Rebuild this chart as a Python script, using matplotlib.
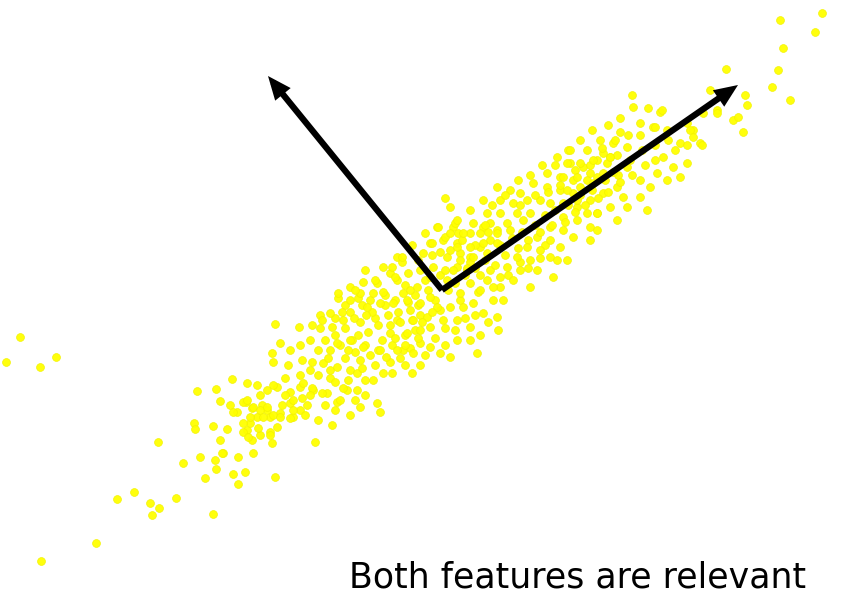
import matplotlib
matplotlib.use("Agg")
import matplotlib.pyplot as plt

# Scatter points (pixel coordinates: x to the right, y downward)
pts_tail = [(20,337),(6,362),(40,367),(56,357),
    (158,442),(183,463),(134,492),(117,499),(150,503),(159,508),(152,515),(176,498),
    (96,543),(41,561),(197,391),(194,423),(195,429),
    (216,389),(220,401),(230,405),(237,412),(213,426),(227,429),(220,440),(223,453),
    (215,460),(216,469),(205,478),(238,457),(233,474),(238,484),(245,472),(247,430),
    (246,402),(232,379),(200,457),(213,514)]
pts_lower = [(243,402),(233,412),(252,408),(262,405),(267,410),(257,417),(250,423),(243,432),
    (270,417),(280,413),(290,403),(300,410),(293,417),(307,405),(277,387),(300,387),(313,390),
    (327,393),(337,402),(347,390),(252,440),(260,435),(270,432),(272,443),(315,442),(222,453),
    (253,453),(275,477),
    (275,324),(299,327),(312,325),(320,315),(280,343),(272,353),(273,362),(290,350),(288,365),
    (302,360),(312,362),(310,370),(323,363),(330,370),(337,367),(350,370),(357,373),(330,378),
    (373,380),(383,373),(392,373),(412,373),(403,350),(247,383),(257,385),(273,385),(267,390),
    (303,383),(312,388),(322,393),(290,392),(293,400),(302,398),(340,400),(343,388),(357,390),
    (247,400),(253,407),(260,410),(267,407),(250,417),(263,417),(273,415),(280,417),(293,410),
    (305,415),(290,418),(243,423),(258,428),(277,427),(350,415),(377,403),(380,412),(248,437),
    (270,435),
    (318,375),(335,382),(348,380),(365,380),(362,368),(375,365),(390,362),(405,365),(420,365),
    (300,375),(285,378),(310,395),(325,405),(335,410),(355,400),(365,395),(318,420),(332,425),
    (360,407),(285,395),(260,395),(282,405)]
pts_core = [(335,335),(345,328),(352,340),(360,322),(368,332),(375,318),(382,340),(390,325),
    (398,312),(405,335),(412,320),(418,305),(340,345),(355,352),(365,345),(378,350),(392,345),
    (400,358),(410,348),(415,330),(325,340),(330,350),(345,358),(360,360),(372,312),(385,305),
    (395,300),(408,302),(350,312),(362,305),
    (420,315),(428,290),(435,300),(425,280),(440,275),(415,295),(405,285),(385,295),(370,300),
    (358,298),(345,305),(335,318),(320,328),(310,340),(300,345),(318,350),(328,358),(440,310),
    (448,290),(455,283),(465,275),(475,268),(485,260),(478,292),(490,270),(460,300),
    (397,257),(402,262),(365,270),(383,267),(390,273),(350,287),(363,282),(377,283),(397,280),
    (338,298),(350,300),(360,293),(373,293),(383,292),(403,293),(410,290),(417,287),
    (330,313),(343,320),(367,307),(380,303),(393,303),(407,300),(420,303),(430,297),(437,307),
    (427,317),(413,320),(397,320),(390,333),(407,333),(420,330),(430,327),(443,320),(450,307),
    (463,307),(473,303),(457,320),(470,327),(483,313),(497,317),(493,300),(480,290),(460,293),
    (470,283),(487,280),(500,287),(503,300),(457,340),(470,340),(480,335),(477,353),(430,347),
    (420,343),(413,353),(397,350),(380,350),(363,347),(350,340),(337,343),(440,353),(450,357),
    (498,330),
    (437,227),(453,227),(430,243),(443,240),(457,243),(470,233),(483,227),(497,230),(447,257),
    (460,253),(470,257),(480,247),(490,240),(433,267),(445,270),(457,267),(467,270),(430,277),
    (447,280),(423,253),(425,233),(440,252),
    (445,198),(450,207),(438,227),(455,223),(432,243),(445,237),(458,233),(418,260),(402,257),
    (392,267),(375,280),(355,290),(338,293),(395,277),(408,273),
    (322,320),(332,327),(342,312),(354,318),(366,315),(378,325),(388,315),(400,322),(410,310),
    (422,322),(432,312),(445,328),(455,330),(465,318),(475,315),(488,322),(348,350),(358,335),
    (370,355),(386,357),(395,338),(405,345),(418,338),(425,355),(435,338),(445,345),
    (412,245),(420,270),(432,255),(450,250),(462,240),(475,245),(488,232),(500,245),(512,238),
    (505,255),(518,248),(528,240),(495,265),(508,275),(520,262),(528,268),(540,258),(545,245),
    (480,275),(470,262)]
pts_upper = [(557,157),(570,163),(583,167),(597,160),(610,157),(547,173),(560,177),(573,180),
    (587,180),(597,177),(533,183),(547,187),(560,190),(573,193),(497,187),(510,190),(520,193),
    (483,200),(500,200),(513,203),(527,200),(540,200),(550,203),(470,210),(487,213),(500,213),
    (517,213),(530,213),(457,220),(473,223),(490,223),(507,223),(523,220),(450,233),(463,233),
    (480,233),(497,233),(510,230),(457,247),(470,247),(483,243),(497,243),(460,260),(473,257),
    (487,253),(453,270),(467,268),
    (590,200),(603,193),(617,187),(623,197),(577,207),(587,213),(597,213),(610,207),(563,217),
    (577,220),(590,227),(550,227),(563,230),(573,237),(537,237),(550,240),(560,247),(527,247),
    (540,250),(550,257),(567,260),(517,257),(530,260),(507,267),(520,270),(537,270),(500,277),
    (513,280),(553,277),(590,240),(597,230),(617,220),(493,287),(530,287),(557,260),
    (522,232),(535,225),(545,215),(555,210),(568,205),(580,195),(592,190),(605,180),(618,175),
    (540,232),(552,225),(565,222),(575,212),(585,205),(598,198),(608,192),(620,182),
    (520,205),(535,195),(548,192),(560,185),(575,170),(590,165),(485,225),(492,205),(505,195),
    (518,180),(530,175),(542,165),(555,165),(568,150),(580,140)]
pts_top = [(632,95),(633,107),(648,108),(660,112),(640,123),(653,127),(620,132),(600,140),
    (613,143),(627,147),(570,150),(587,150),(603,153),(617,155),(567,163),(580,163),(593,160),
    (607,163),(563,177),(577,177),(590,173),(603,173),(567,190),(580,187),(593,183),(613,172),
    (627,167),(563,203),(577,200),(610,157),
    (667,130),(687,123),(693,130),(700,143),(680,143),(663,157),(673,167),(687,163),(657,173),
    (667,180),(680,177),(640,180),(650,187),(640,197),(627,207),(647,210),(703,113),(717,110),
    (733,120),(597,213),
    (630,160),(642,150),(655,145),(668,140),(675,150),(632,175),(645,165),(655,160),
    (602,148),(615,140),(628,135),(640,135),(592,130),(608,125),(620,118),
    (780,20),(822,13),(815,32),(783,48),(778,70),(726,69),(772,87),(790,100),(745,95),(747,105),
    (717,113),(738,117),(743,132),(662,110),(655,127),(690,130),(693,137),(687,145),(702,145),
    (710,90)]

# Arrows: common origin and the two tips
arrow_origin = (442, 290)
arrow_tips = [(268, 76), (738, 85)]

caption = "Both features are relevant"

all_pts = pts_tail + pts_lower + pts_core + pts_upper + pts_top
xs = [p[0] for p in all_pts]
ys = [p[1] for p in all_pts]

fig = plt.figure(figsize=(8.65, 6.09), dpi=100)
ax = fig.add_axes([0, 0, 1, 1])
ax.set_xlim(0, 865)
ax.set_ylim(609, 0)
ax.axis("off")

ax.scatter(xs, ys, s=32, marker="o", color="#ffff00", edgecolors="#f2f200",
           linewidths=0.5, alpha=0.95, zorder=2)

for tip in arrow_tips:
    ax.annotate("", xy=tip, xytext=arrow_origin,
                arrowprops=dict(arrowstyle="-|>,head_length=0.9,head_width=0.38",
                                color="black", lw=4.5, shrinkA=0, shrinkB=0,
                                joinstyle="miter", capstyle="butt"),
                zorder=3)

ax.text(578, 577, caption, ha="center", va="center", fontsize=25,
        family=["DejaVu Sans"], color="black")

fig.savefig("out.png", dpi=100)
